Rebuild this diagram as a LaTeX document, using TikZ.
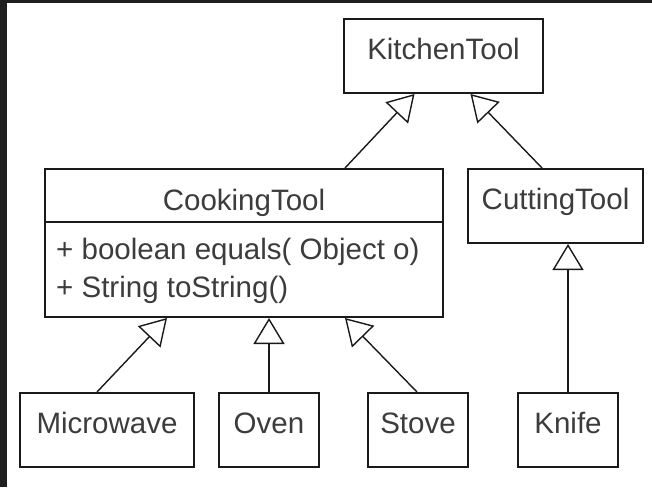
\documentclass[tikz,border=0pt]{standalone}
\usepackage{fontspec}
\setmainfont{Liberation Sans}
\usetikzlibrary{arrows.meta}
\definecolor{edgecol}{HTML}{1A1A1A}
\definecolor{txtcol}{HTML}{3C3C3C}
\definecolor{framecol}{HTML}{1F1F1F}
\tikzset{
  umlfont/.style={font=\fontsize{29.5}{34}\selectfont, text=txtcol},
  classbox/.style={draw=edgecol, line width=2pt, fill=white, inner sep=0pt,
    minimum height=74pt, umlfont, text height=21pt, text depth=14pt},
  member/.style={umlfont, inner sep=0pt, anchor=base west},
  title/.style={umlfont, inner sep=0pt, anchor=base},
  inherit/.style={draw=edgecol, line width=1.4pt,
    -{Triangle[open, length=26pt, width=31pt, line width=1.4pt]}},
}
\begin{document}
\begin{tikzpicture}[x=1pt, y=-1pt]
  % page background with the dark window frame on the left and top
  \fill[white] (0,0) rectangle (652,487);
  \fill[framecol] (0,0) rectangle (7,487);
  \fill[framecol] (0,0) rectangle (652,3);
  \useasboundingbox (0,0) rectangle (652,487);

  % classes
  \node[classbox, minimum width=199pt] (kitchen) at (443.5,56) {KitchenTool};
  \node[classbox, minimum width=175pt] (cutting) at (555.5,206) {CuttingTool};
  \node[draw=edgecol, line width=2pt, fill=white, inner sep=0pt,
        minimum width=398pt, minimum height=148pt] (cooking) at (244,243) {};
  \draw[edgecol, line width=2pt]
    ([yshift=-54pt]cooking.north west) -- ([yshift=-54pt]cooking.north east);
  \node[title] (cookname) at (244,210.5) {CookingTool};
  \node[member] (eqm) at (56,259) {+ boolean equals( Object o)};
  \node[member] (tsm) at (56,297) {+ String toString()};

  \node[classbox, minimum width=174pt] (microwave) at (107,430) {Microwave};
  \node[classbox, minimum width=100pt] (oven) at (269,430) {Oven};
  \node[classbox, minimum width=100pt] (stove) at (418,430) {Stove};
  \node[classbox, minimum width=100pt] (knife) at (568,430) {Knife};

  % generalisation arrows
  \draw[inherit] ([xshift=101pt]cooking.north) -- ([xshift=-29pt]kitchen.south);
  \draw[inherit] ([xshift=-13.5pt]cutting.north) -- ([xshift=27pt]kitchen.south);
  \draw[inherit] ([xshift=-10pt]microwave.north) -- ([xshift=-77pt]cooking.south);
  \draw[inherit] (oven.north) -- (oven.north |- cooking.south);
  \draw[inherit] ([xshift=-1pt]stove.north) -- ([xshift=101pt]cooking.south);
  \draw[inherit] (knife.north) -- (knife.north |- cutting.south);
\end{tikzpicture}
\end{document}
